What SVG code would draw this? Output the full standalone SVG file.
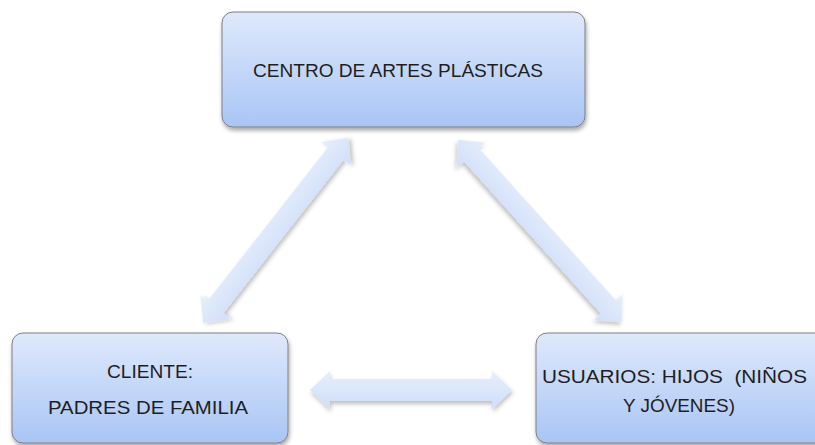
<svg xmlns="http://www.w3.org/2000/svg" width="815" height="445" viewBox="0 0 815 445">
<defs>
<linearGradient id="boxg" x1="0" y1="0" x2="0" y2="1">
<stop offset="0" stop-color="#dfe9fc"/>
<stop offset="1" stop-color="#a9c5f5"/>
</linearGradient>
<linearGradient id="arrg" x1="0" y1="0" x2="0" y2="1">
<stop offset="0" stop-color="#e6eefc"/>
<stop offset="1" stop-color="#cfdef8"/>
</linearGradient>
<filter id="sh" x="-20%" y="-20%" width="140%" height="150%">
<feDropShadow dx="1" dy="3" stdDeviation="2" flood-color="#000" flood-opacity="0.35"/>
</filter>
<filter id="ash" x="-20%" y="-50%" width="140%" height="200%">
<feDropShadow dx="1" dy="3" stdDeviation="2" flood-color="#000" flood-opacity="0.25"/>
</filter>
</defs>
<style>
.box{fill:url(#boxg);stroke:#7f7f7f;stroke-width:1;filter:url(#sh)}
.arr{fill:url(#arrg);filter:url(#ash)}
.t{font-family:"Liberation Sans",Arial,sans-serif;font-size:18px;fill:#1e1e1e;text-anchor:middle}
</style>
<rect width="815" height="445" fill="#ffffff"/>
<g id="connectors">
<g transform="translate(275.5,230.5) rotate(-51.9)">
<polygon class="arr" points="-117.5,0 -97.5,-19 -97.5,-10 97.5,-10 97.5,-19 117.5,0 97.5,19 97.5,10 -97.5,10 -97.5,19"/>
</g>
<g transform="translate(540,231) rotate(48)">
<polygon class="arr" points="-122.5,0 -102.5,-19 -102.5,-10 102.5,-10 102.5,-19 122.5,0 102.5,19 102.5,10 -102.5,10 -102.5,19"/>
</g>
<g transform="translate(411,390)">
<polygon class="arr" points="-101,0 -81,-19 -81,-11 81,-11 81,-19 101,0 81,19 81,11 -81,11 -81,19"/>
</g>
</g>
<g id="centro">
<rect class="box" x="222" y="12" width="363" height="115" rx="11"/>
<text class="t" x="398" y="77" textLength="290" lengthAdjust="spacingAndGlyphs">CENTRO DE ARTES PLÁSTICAS</text>
</g>
<g id="cliente">
<rect class="box" x="12" y="333" width="276" height="110" rx="11"/>
<text class="t" x="150" y="378" textLength="86" lengthAdjust="spacingAndGlyphs">CLIENTE:</text>
<text class="t" x="148" y="414" textLength="200" lengthAdjust="spacingAndGlyphs">PADRES DE FAMILIA</text>
</g>
<g id="usuarios">
<rect class="box" x="536" y="333" width="300" height="110" rx="11"/>
<text class="t" x="674.5" y="383" textLength="265" lengthAdjust="spacingAndGlyphs">USUARIOS: HIJOS &#160;(NIÑOS</text>
<text class="t" x="679" y="412" textLength="112" lengthAdjust="spacingAndGlyphs">Y JÓVENES)</text>
</g>
</svg>
